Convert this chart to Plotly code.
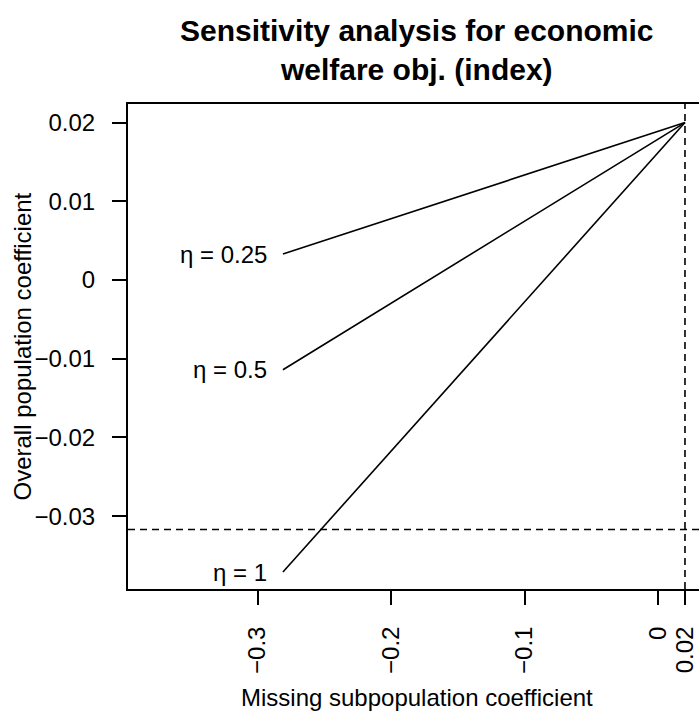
import plotly.graph_objects as go

# ---- data ----
eta_labels = ["η = 0.25", "η = 0.5", "η = 1"]
x_start = [-0.281, -0.281, -0.281]
x_end = [0.02, 0.02, 0.02]
y_start = [0.0033, -0.0114, -0.0371]
y_end = [0.02, 0.02, 0.02]
threshold_y = -0.0317
observed_x = 0.02

x_tick_vals = [-0.3, -0.2, -0.1, 0, 0.02]
x_tick_text = ["−0.3", "−0.2", "−0.1", "0", "0.02"]
y_tick_vals = [0.02, 0.01, 0, -0.01, -0.02, -0.03]
y_tick_text = ["0.02", "0.01", "0", "−0.01", "−0.02", "−0.03"]

FONT = "Liberation Sans, Arial, Helvetica, sans-serif"

fig = go.Figure()
for xs, xe, ys, ye in zip(x_start, x_end, y_start, y_end):
    fig.add_trace(go.Scatter(x=[xs, xe], y=[ys, ye], mode="lines",
                             line=dict(color="black", width=1.6),
                             showlegend=False, hoverinfo="skip"))

# dashed reference lines
fig.add_shape(type="line", xref="paper", x0=0, x1=1, yref="y",
              y0=threshold_y, y1=threshold_y,
              line=dict(color="black", width=1.6, dash="7px,5px"))
fig.add_shape(type="line", yref="paper", y0=0, y1=1, xref="x",
              x0=observed_x, x1=observed_x,
              line=dict(color="black", width=1.6, dash="7px,5px"))

# eta labels
for lab, xs, ys in zip(eta_labels, x_start, y_start):
    fig.add_annotation(x=xs, y=ys, text=lab, showarrow=False,
                       xanchor="right", yanchor="middle", xshift=-14,
                       font=dict(size=24, color="black", family=FONT))

# title
fig.add_annotation(xref="paper", yref="paper", x=(417 - 128) / 571,
                   y=(589 - 50) / 485, text="<b>Sensitivity analysis for economic<br>welfare obj. (index)</b>",
                   showarrow=False, xanchor="center", yanchor="middle",
                   font=dict(size=30, color="black", family=FONT))
# axis titles
fig.add_annotation(xref="paper", yref="paper", x=(417 - 128) / 571,
                   y=(589 - 697) / 485, text="Missing subpopulation coefficient",
                   showarrow=False, xanchor="center", yanchor="middle",
                   font=dict(size=24, color="black", family=FONT))
fig.add_annotation(xref="paper", yref="paper", x=(22 - 128) / 571,
                   y=0.5, text="Overall population coefficient", textangle=-90,
                   showarrow=False, xanchor="center", yanchor="middle",
                   font=dict(size=24, color="black", family=FONT))

fig.update_layout(
    width=699, height=715,
    margin=dict(l=128, r=0, t=104, b=126),
    paper_bgcolor="white", plot_bgcolor="white",
    font=dict(family=FONT, size=24, color="black"),
    showlegend=False,
)
fig.update_xaxes(range=[-0.397, 0.0305], tickvals=x_tick_vals, ticktext=x_tick_text,
                 tickangle=-90, ticks="outside", ticklen=14, tickwidth=1.6,
                 tickcolor="black", showline=True, linecolor="black", linewidth=2,
                 mirror=True, showgrid=False, zeroline=False,
                 ticklabelstandoff=12, tickfont=dict(size=24, family=FONT))
fig.update_yaxes(range=[-0.03926, 0.02236], tickvals=y_tick_vals, ticktext=y_tick_text,
                 ticks="outside", ticklen=14, tickwidth=1.6, tickcolor="black",
                 showline=True, linecolor="black", linewidth=2, mirror=False,
                 showgrid=False, zeroline=False, ticklabelstandoff=12,
                 tickfont=dict(size=24, family=FONT))

fig.write_html("out.html", config={"displayModeBar": False},
               post_script="document.body.style.margin='0';document.body.style.overflow='hidden';")
